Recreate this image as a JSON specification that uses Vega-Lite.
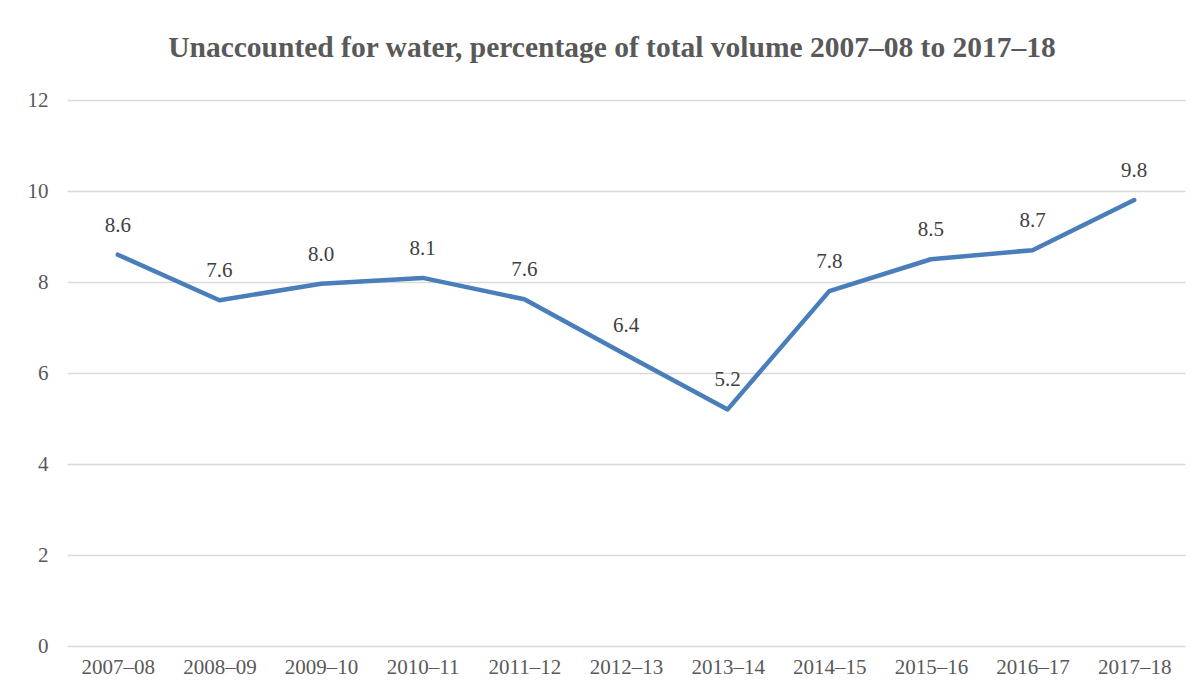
{
  "$schema": "https://vega.github.io/schema/vega-lite/v6.json",
  "autosize": "none",
  "width": 1118,
  "height": 546,
  "padding": {"left": 67, "top": 100, "right": 15, "bottom": 47},
  "background": "white",
  "config": {"view": {"stroke": null}, "font": "Times New Roman, Liberation Serif, serif"},
  "title": {
    "text": "Unaccounted for water, percentage of total volume 2007–08 to 2017–18",
    "font": "Times New Roman, Liberation Serif, serif",
    "fontSize": 29.5,
    "fontWeight": "bold",
    "color": "#595959",
    "offset": 26,
    "dx": -14,
    "anchor": "middle"
  },
  "data": {
    "values": [
      {"year": "2007–08", "value": 8.6},
      {"year": "2008–09", "value": 7.6},
      {"year": "2009–10", "value": 7.96},
      {"year": "2010–11", "value": 8.09},
      {"year": "2011–12", "value": 7.62},
      {"year": "2012–13", "value": 6.4},
      {"year": "2013–14", "value": 5.2},
      {"year": "2014–15", "value": 7.8},
      {"year": "2015–16", "value": 8.5},
      {"year": "2016–17", "value": 8.7},
      {"year": "2017–18", "value": 9.8}
    ]
  },
  "encoding": {
    "x": {
      "field": "year",
      "type": "ordinal",
      "sort": null,
      "scale": {"paddingInner": 0, "paddingOuter": 0.5},
      "axis": {
        "title": null,
        "labelAngle": 0,
        "ticks": false,
        "domain": false,
        "labelFont": "Times New Roman, Liberation Serif, serif",
        "labelFontSize": 21,
        "labelColor": "#595959",
        "labelPadding": 10
      }
    },
    "y": {
      "field": "value",
      "type": "quantitative",
      "scale": {"domain": [0, 12]},
      "axis": {
        "title": null,
        "values": [0, 2, 4, 6, 8, 10, 12],
        "ticks": false,
        "domain": false,
        "gridColor": "#d9d9d9",
        "gridWidth": 1.5,
        "labelFont": "Times New Roman, Liberation Serif, serif",
        "labelFontSize": 21,
        "labelColor": "#595959",
        "labelPadding": 19
      }
    }
  },
  "layer": [
    {
      "mark": {"type": "line", "color": "#4a7ebb", "strokeWidth": 4.5, "strokeJoin": "round", "strokeCap": "round"}
    },
    {
      "mark": {"type": "text", "dy": -29, "baseline": "middle", "fontSize": 21, "font": "Times New Roman, Liberation Serif, serif", "color": "#404040"},
      "encoding": {"text": {"field": "value", "type": "quantitative", "format": ".1f"}}
    }
  ]
}
